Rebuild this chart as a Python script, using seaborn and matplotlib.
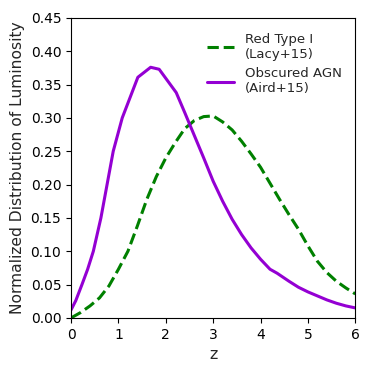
import numpy as np
import pandas as pd
import matplotlib
matplotlib.use("Agg")
import matplotlib.pyplot as plt
import seaborn as sns

z_red = [0.0, 0.2, 0.4, 0.6, 0.8, 1.0, 1.2, 1.4, 1.6, 1.8, 2.0, 2.2, 2.4, 2.6, 2.8, 3.0,
         3.2, 3.4, 3.6, 3.8, 4.0, 4.2, 4.4, 4.6, 4.8, 5.0, 5.2, 5.4, 5.6, 5.8, 6.0]
lum_red = [0.0, 0.008, 0.018, 0.03, 0.048, 0.073, 0.1, 0.138, 0.178, 0.212, 0.24, 0.263,
           0.284, 0.296, 0.302, 0.303, 0.294, 0.282, 0.265, 0.246, 0.226, 0.202, 0.178,
           0.155, 0.133, 0.108, 0.085, 0.068, 0.055, 0.045, 0.036]

z_obs = [0.0, 0.1, 0.23, 0.35, 0.47, 0.63, 0.76, 0.89, 1.08, 1.41, 1.68, 1.86,
         2.22, 2.4, 2.6, 2.8, 3.0, 3.2, 3.4, 3.6, 3.8, 4.0, 4.2, 4.35, 4.6, 4.8,
         5.0, 5.2, 5.4, 5.6, 5.8, 6.0]
lum_obs = [0.012, 0.026, 0.05, 0.073, 0.1, 0.15, 0.2, 0.25, 0.3, 0.361, 0.376,
           0.373, 0.338, 0.308, 0.274, 0.24, 0.205, 0.175, 0.148, 0.125, 0.105, 0.088,
           0.073, 0.067, 0.055, 0.046, 0.039, 0.033, 0.027, 0.022, 0.018, 0.015]

sns.set_style("ticks")
plt.rcParams['font.family'] = ['DejaVu Sans']

fig = plt.figure(figsize=(3.74, 3.74), dpi=100)
ax = fig.add_axes([0.19, 0.15, 0.76, 0.802])

sns.lineplot(x=z_red, y=lum_red, ax=ax, color='green', lw=2.2, linestyle='--',
             label='Red Type I\n(Lacy+15)')
sns.lineplot(x=z_obs, y=lum_obs, ax=ax, color='darkviolet', lw=2.2,
             label='Obscured AGN\n(Aird+15)')

ax.set_xlim(0, 6)
ax.set_ylim(0, 0.45)
ax.set_yticks(np.arange(0, 0.46, 0.05))
ax.set_xlabel('z', fontsize=11.5)
ax.set_ylabel('Normalized Distribution of Luminosity', fontsize=11.2)
ax.tick_params(labelsize=10, colors='black')
for s in ax.spines.values():
    s.set_color('black')
ax.legend(loc='upper right', frameon=False, fontsize=9.5, handlelength=2.1,
          bbox_to_anchor=(0.994, 0.99))

fig.savefig('out.png', dpi=100)
